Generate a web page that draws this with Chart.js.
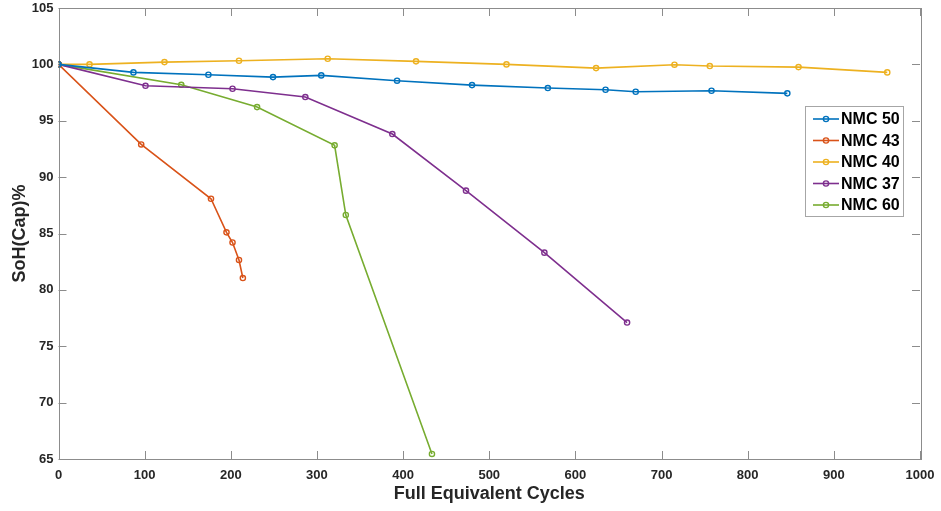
<!DOCTYPE html>
<html>
<head>
<meta charset="utf-8">
<script src="https://cdn.jsdelivr.net/npm/chart.js@4.4.0/dist/chart.umd.min.js"></script>
<style>
  html, body { margin: 0; padding: 0; background: #fff; }
  #wrap { width: 941px; height: 511px; }
</style>
</head>
<body>
<div id="wrap"><canvas id="chart" width="941" height="511"></canvas></div>
<script>
// Series data
const seriesNames = ['NMC 50', 'NMC 43', 'NMC 40', 'NMC 37', 'NMC 60'];
const seriesColors = ['#0072BD', '#D95319', '#EDB120', '#7E2F8E', '#77AC30'];

const nmc50Cycles = [0, 87, 174, 249, 305, 393, 480, 568, 635, 670, 758, 846];
const nmc50SoH = [100, 99.29, 99.08, 98.87, 99.02, 98.55, 98.16, 97.9, 97.75, 97.57, 97.66, 97.43];

const nmc43Cycles = [0, 96, 177, 195, 202, 209.5, 214];
const nmc43SoH = [100, 92.9, 88.08, 85.1, 84.2, 82.65, 81.05];

const nmc40Cycles = [0, 36, 123, 209.5, 312.5, 415, 520, 624, 715, 756, 859, 962];
const nmc40SoH = [100, 100.0, 100.2, 100.32, 100.5, 100.27, 100.0, 99.67, 99.97, 99.85, 99.76, 99.29];

const nmc37Cycles = [0, 101, 202, 286.5, 387.5, 473, 564, 660];
const nmc37SoH = [100, 98.1, 97.84, 97.1, 93.82, 88.8, 83.3, 77.1];

const nmc60Cycles = [0, 142.5, 230.5, 320.5, 333.5, 433.5];
const nmc60SoH = [100, 98.19, 96.21, 92.82, 86.64, 65.45];

const allCycles = [nmc50Cycles, nmc43Cycles, nmc40Cycles, nmc37Cycles, nmc60Cycles];
const allSoH = [nmc50SoH, nmc43SoH, nmc40SoH, nmc37SoH, nmc60SoH];

// Axis settings
const xMin = 0, xMax = 1000, xStep = 100;
const yMin = 65, yMax = 105, yStep = 5;
const xTitle = 'Full Equivalent Cycles';
const yTitle = 'SoH(Cap)%';

const axisColor = '#8c8c8c';
const textColor = '#262626';
const fontFamily = '"Liberation Sans", Arial, Helvetica, sans-serif';

// Build datasets
const datasets = seriesNames.map((name, i) => ({
    label: name,
    data: allCycles[i].map((c, j) => ({ x: c, y: allSoH[i][j] })),
    borderColor: seriesColors[i],
    backgroundColor: seriesColors[i],
    borderWidth: 1.6,
    pointRadius: 2.6,
    pointBorderWidth: 1.4,
    pointBackgroundColor: 'rgba(255,255,255,0)',
    pointBorderColor: seriesColors[i],
    tension: 0
}));

// Box around the plot and MATLAB-style inward ticks
const frameTicks = {
    id: 'frameTicks',
    beforeDatasetsDraw(chart) {
        const { ctx, chartArea: a, scales: { x, y } } = chart;
        const len = 8;
        ctx.save();
        ctx.strokeStyle = axisColor;
        ctx.lineWidth = 1;
        ctx.strokeRect(Math.round(a.left) + 0.5, Math.round(a.top) + 0.5,
            Math.round(a.right - a.left), Math.round(a.bottom - a.top));
        ctx.beginPath();
        x.ticks.forEach(t => {
            const px = Math.round(x.getPixelForValue(t.value)) + 0.5;
            ctx.moveTo(px, a.bottom); ctx.lineTo(px, a.bottom - len);
            ctx.moveTo(px, a.top); ctx.lineTo(px, a.top + len);
        });
        y.ticks.forEach(t => {
            const py = Math.round(y.getPixelForValue(t.value)) + 0.5;
            ctx.moveTo(a.left, py); ctx.lineTo(a.left + len, py);
            ctx.moveTo(a.right, py); ctx.lineTo(a.right - len, py);
        });
        ctx.stroke();
        ctx.restore();
    }
};

// Legend box inside the plot, top right
const boxLegend = {
    id: 'boxLegend',
    afterDraw(chart) {
        const { ctx, chartArea: a } = chart;
        const left = a.right - 115, top = 106, w = 98, h = 110;
        const rowTop = top + 13, rowGap = 21.5;
        ctx.save();
        ctx.fillStyle = '#fff';
        ctx.fillRect(left, top, w, h);
        ctx.strokeStyle = '#a6a6a6';
        ctx.lineWidth = 1;
        ctx.strokeRect(left + 0.5, top + 0.5, w, h);
        ctx.font = 'bold 16px ' + fontFamily;
        ctx.textBaseline = 'middle';
        ctx.textAlign = 'left';
        chart.data.datasets.forEach((ds, i) => {
            const cy = rowTop + i * rowGap;
            ctx.strokeStyle = ds.borderColor;
            ctx.lineWidth = 1.6;
            ctx.beginPath();
            ctx.moveTo(left + 8, cy); ctx.lineTo(left + 34, cy);
            ctx.stroke();
            ctx.lineWidth = 1.4;
            ctx.beginPath();
            ctx.arc(left + 21, cy, 2.6, 0, Math.PI * 2);
            ctx.stroke();
            ctx.fillStyle = '#000';
            ctx.fillText(ds.label, left + 36, cy + 1);
        });
        ctx.restore();
    }
};

const ctx = document.getElementById('chart').getContext('2d');
new Chart(ctx, {
    type: 'line',
    data: { datasets },
    options: {
        responsive: false,
        animation: false,
        devicePixelRatio: 1,
        layout: { padding: { top: 8, right: 21, left: 0, bottom: 0 } },
        plugins: {
            legend: { display: false },
            tooltip: { enabled: false }
        },
        scales: {
            x: {
                type: 'linear',
                min: xMin,
                max: xMax,
                grid: { display: false, drawTicks: false },
                border: { display: false },
                ticks: {
                    stepSize: xStep,
                    padding: 9,
                    color: textColor,
                    font: { family: fontFamily, size: 13, weight: 'bold' },
                    maxRotation: 0,
                    callback: v => String(v)
                },
                title: {
                    display: true,
                    text: xTitle,
                    color: textColor,
                    font: { family: fontFamily, size: 18, weight: 'bold' },
                    padding: { top: 0, bottom: 6 }
                },
                afterFit(scale) {
                    scale.height = 52;
                    scale.paddingLeft = 0;
                    scale.paddingRight = 0;
                }
            },
            y: {
                type: 'linear',
                min: yMin,
                max: yMax,
                grid: { display: false, drawTicks: false },
                border: { display: false },
                ticks: {
                    stepSize: yStep,
                    padding: 5,
                    color: textColor,
                    font: { family: fontFamily, size: 13, weight: 'bold' }
                },
                title: {
                    display: true,
                    text: yTitle,
                    color: textColor,
                    font: { family: fontFamily, size: 18, weight: 'bold' },
                    padding: { top: 9, bottom: 0 }
                },
                afterFit(scale) {
                    scale.width = 58.5;
                    scale.paddingTop = 0;
                    scale.paddingBottom = 0;
                }
            }
        }
    },
    plugins: [frameTicks, boxLegend]
});
</script>
</body>
</html>
